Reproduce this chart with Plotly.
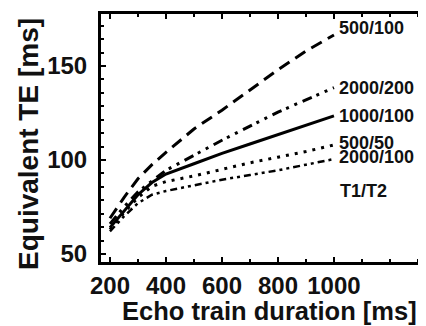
import plotly.graph_objects as go

# Echo train duration [ms]
etd = [200, 250, 300, 350, 400, 500, 600, 700, 800, 900, 1000]

# Equivalent TE [ms] for each T1/T2 combination
te_500_100 = [69, 80, 90, 97.5, 104, 116.5, 126.5, 137.5, 148, 158, 166.5]
te_2000_200 = [66, 75, 83, 89, 94.5, 102.5, 110.5, 118, 125.5, 132, 138.5]
te_1000_100 = [64, 73, 81.5, 88, 92.5, 98, 103.5, 108.5, 113.5, 118.5, 123.5]
te_500_50 = [63, 72, 80, 86, 88.5, 91.5, 95, 98.5, 101.5, 104.5, 108]
te_2000_100 = [62, 70, 77, 81.5, 83.5, 86.5, 89.5, 92, 94.5, 97.5, 100.5]

series_names = ["500/100", "2000/200", "1000/100", "500/50", "2000/100"]
label_y = [170.2, 138.3, 123.4, 109, 101.6]
legend_title = "T1/T2"

x_ticks = [200, 400, 600, 800, 1000]
y_ticks = [50, 100, 150]

FONT = "Liberation Sans, Arial, sans-serif"

styles = [
    dict(dash="12px,7px", width=3),
    dict(dash="10px,5px,3px,6px,3px,6px", width=3),
    dict(dash="solid", width=3),
    dict(dash="3px,6px", width=3),
    dict(dash="7px,4px,3px,4px,3px,4px", width=2.5),
]

W, H = 426, 326
L, R, T, B = 93, 0, 6, 72          # page body adds an 8px offset
OFF = 8

fig = go.Figure()
for name, ys, st in zip(series_names,
                        [te_500_100, te_2000_200, te_1000_100, te_500_50, te_2000_100],
                        styles):
    fig.add_trace(go.Scatter(x=etd, y=ys, mode="lines", name=name,
                             line=dict(color="black", **st), showlegend=False))

for name, ly in zip(series_names, label_y):
    fig.add_annotation(x=1010, y=ly, xref="x", yref="y", text=name,
                       showarrow=False, xanchor="left", yanchor="middle",
                       font=dict(family=FONT, size=18, color="#111", weight="bold"))
fig.add_annotation(x=1014, y=83.5, xref="x", yref="y", text=legend_title,
                   showarrow=False, xanchor="left", yanchor="middle",
                   font=dict(family=FONT, size=18, color="#111", weight="bold"))

pw, ph = W - L - R, H - T - B


def px_to_paper(xp, yp):
    # window pixel -> paper fraction of plot domain
    xf = (xp - OFF - L) / pw
    yf = ((H - (yp - OFF)) - B) / ph
    return xf, yf


xt = px_to_paper(269, 311)
fig.add_annotation(x=xt[0], y=xt[1], xref="paper", yref="paper",
                   text="Echo train duration [ms]", showarrow=False,
                   xanchor="center", yanchor="middle",
                   font=dict(family=FONT, size=25.5, color="#111", weight="bold"))
yt = px_to_paper(28, 144)
fig.add_annotation(x=yt[0], y=yt[1], xref="paper", yref="paper",
                   text="Equivalent TE [ms]", showarrow=False, textangle=-90,
                   xanchor="center", yanchor="middle",
                   font=dict(family=FONT, size=28, color="#111", weight="bold"))

axis_common = dict(showgrid=False, zeroline=False, linecolor="black", linewidth=3,
                   ticks="inside", ticklen=5, tickwidth=2, tickcolor="black",
                   automargin=False,
                   tickfont=dict(family=FONT, size=24, color="#111", weight="bold"))

px_per_ms = 56 / 200
fig.update_xaxes(range=[168, 168 + pw / px_per_ms], tickvals=x_ticks, mirror="ticks",
                 ticklabelstandoff=0,
                 minor=dict(dtick=100, tick0=0, ticks="inside", ticklen=3, tickwidth=2,
                            tickcolor="black"),
                 **axis_common)
fig.update_yaxes(range=[45.7, 177.7], tickvals=y_ticks, ticklabelstandoff=6,
                 minor=dict(dtick=50 / 7, tick0=50, ticks="inside", ticklen=3, tickwidth=2,
                            tickcolor="black"),
                 **axis_common)

fig.update_layout(width=W, height=H, margin=dict(l=L, r=R, t=T, b=B),
                  paper_bgcolor="white", plot_bgcolor="white")

fig.write_html("out.html")
